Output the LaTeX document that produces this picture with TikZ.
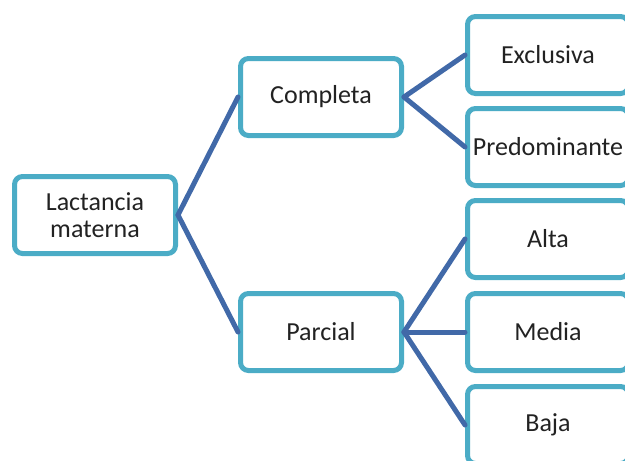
\documentclass[tikz,border=0pt]{standalone}
\usepackage{fontspec}
\setmainfont{Carlito}
\definecolor{boxline}{HTML}{4BACC6}
\definecolor{connline}{HTML}{4169A8}
\definecolor{txt}{HTML}{222222}
\begin{document}
\begin{tikzpicture}[x=1pt,y=-1pt,
  box/.style={draw=boxline, line width=5pt, rounded corners=8pt, fill=white,
    minimum width=161pt, minimum height=77pt, inner sep=2pt, align=center,
    text=txt, font=\fontsize{26}{27}\selectfont},
  conn/.style={draw=connline, line width=5pt, line cap=round}]
\useasboundingbox (0,0) rectangle (625,461);
\clip (0,0) rectangle (625,461);
\node[box] (lm) at (95,215) {Lactancia\\materna};
\node[box] (co) at (321,97) {Completa};
\node[box] (pa) at (321,332) {Parcial};
\node[box] (ex) at (548,55) {Exclusiva};
\node[box] (pr) at (548,147) {Predominante};
\node[box] (al) at (548,239) {Alta};
\node[box] (me) at (548,332) {Media};
\node[box] (ba) at (548,425) {Baja};
\draw[conn] (lm.east) -- (co.west);
\draw[conn] (lm.east) -- (pa.west);
\draw[conn] (co.east) -- (ex.west);
\draw[conn] (co.east) -- (pr.west);
\draw[conn] (pa.east) -- (al.west);
\draw[conn] (pa.east) -- (me.west);
\draw[conn] (pa.east) -- (ba.west);
\end{tikzpicture}
\end{document}
